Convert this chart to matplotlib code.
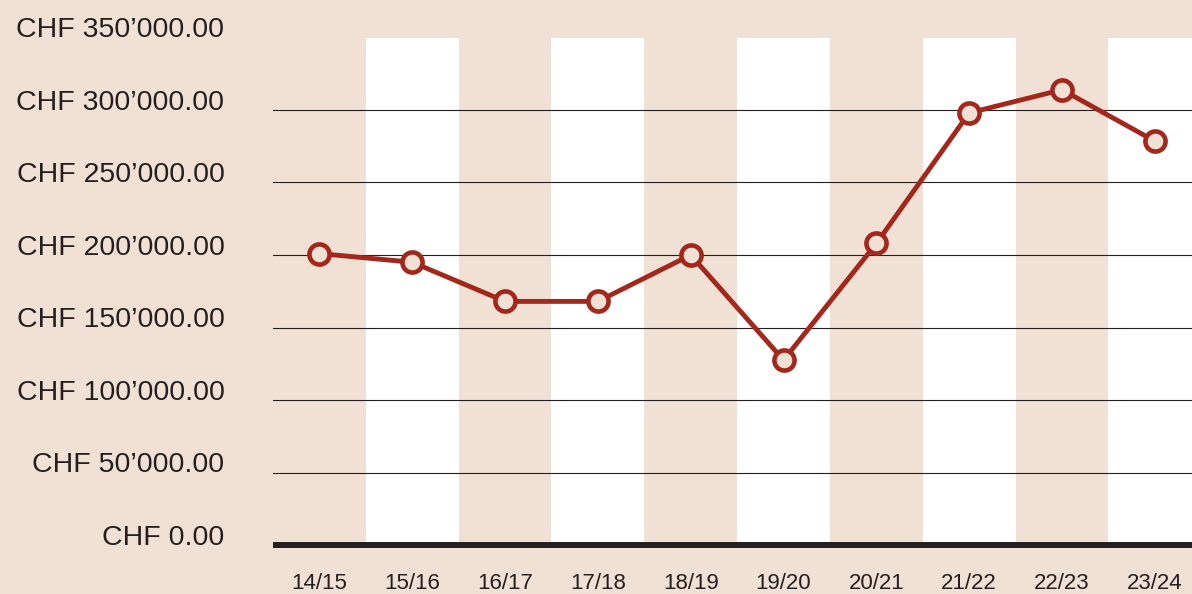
import numpy as np
import matplotlib
matplotlib.use("Agg")
import matplotlib.pyplot as plt

# data
seasons = ["14/15", "15/16", "16/17", "17/18", "18/19",
           "19/20", "20/21", "21/22", "22/23", "23/24"]
values = [201000, 195000, 168000, 168000, 200000,
          127500, 208000, 298000, 314000, 278500]
yticks = [0, 50000, 100000, 150000, 200000, 250000, 300000, 350000]

bg = "#f0e1d4"
red = "#a3271a"
ink = "#231f20"

plt.rcParams["font.family"] = ["Liberation Sans", "DejaVu Sans"]

fig = plt.figure(figsize=(11.92, 5.94), dpi=100, facecolor=bg)
ax = fig.add_axes([273 / 1192, 1 - 545 / 594, 1 - 273 / 1192, (545 - 37.5) / 594])
ax.set_facecolor(bg)

x = np.arange(len(seasons))

# alternating white column bands
for i in x:
    if i % 2 == 1:
        ax.axvspan(i - 0.5, i + 0.5, color="white", lw=0, zorder=0)

# gridlines
for t in yticks[1:-1]:
    ax.axhline(t, color=ink, lw=0.8, zorder=1)
ax.axhline(0, color=ink, lw=4.3, zorder=3, clip_on=False, solid_capstyle="butt")

ax.plot(x, values, color=red, lw=3.5, marker="o", ms=14.5,
        mfc=bg, mec=red, mew=3.3, zorder=4, clip_on=False)

ax.set_xlim(-0.5, 9.4)
ax.set_ylim(0, 350000)

ax.set_xticks(x)
ax.set_xticklabels(seasons, fontsize=16, color=ink)
ax.set_yticks(yticks)
ax.set_yticklabels(["CHF " + f"{v:,.2f}".replace(",", "\u2019") for v in yticks],
                   fontsize=20.5, color=ink)
for lab in ax.get_yticklabels():
    lab.set_verticalalignment("baseline")
ax.tick_params(axis="both", length=0)
ax.tick_params(axis="y", pad=35)
ax.tick_params(axis="x", pad=20)

for s in ax.spines.values():
    s.set_visible(False)

fig.savefig("out.png", dpi=100, facecolor=bg)
